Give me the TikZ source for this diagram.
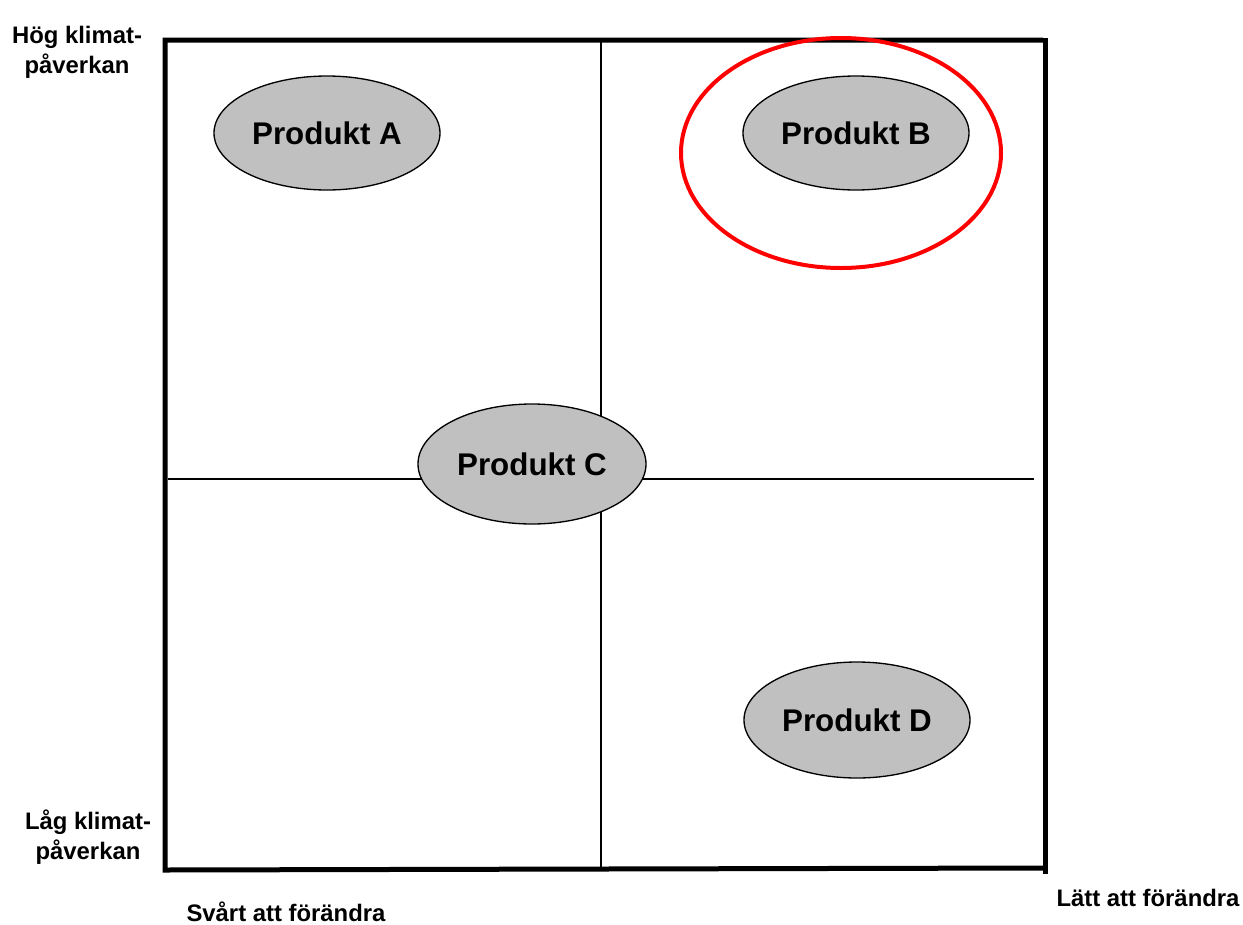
\documentclass[tikz,border=0pt]{standalone}
\usepackage{fontspec}
\setmainfont{Liberation Sans}
\usetikzlibrary{shapes.geometric}
\definecolor{prodgray}{RGB}{192,192,192}

\begin{document}
\begin{tikzpicture}[
                      x = 0.75pt,
                      y = -0.75pt,
         produkt/.style = {ellipse, draw, fill=prodgray, line width=1pt,
                           inner sep=0pt, minimum width=169.5pt, minimum height=85.5pt,
                           font=\fontsize{23.5}{28}\selectfont\bfseries},
            axel/.style = {align=center, inner sep=0pt,
                           font=\fontsize{17.9}{22.5}\selectfont\bfseries},
           ram/.style   = {line width=3.75pt},
        delning/.style  = {line width=1.5pt},
                     ]
\useasboundingbox (0,0) rectangle (1243,925);
% ram och kvadranter
\coordinate (nv) at (165,870);
\coordinate (ov) at (165,40);
\coordinate (oh) at (1043,40);
\coordinate (nh) at (1043,868);
\draw[ram] (oh) -- (ov) -- (nv) -- (nh);
\draw[ram] (1045,38) -- (1045,874);
\draw[delning] (601,40) -- (601,868);
\draw[delning] (168,479) -- (1034,479);
% produkter
\node[produkt] (prodA) at (327,133) {Produkt A};
\node[produkt] (prodB) at (856,133) {Produkt B};
\node[produkt, minimum width=171pt, minimum height=90pt] (prodC) at (532,464) {Produkt C};
\node[produkt, minimum height=87pt] (prodD) at (857,720) {Produkt D};
\node[ellipse, draw=red, line width=3pt, minimum width=240pt, minimum height=172.5pt]
    (ring) at (841,153) {};
% axeltexter
\node[axel] (hog) at (77,52) {Hög klimat-\\påverkan};
\node[axel] (lag) at (88,837) {Låg klimat-\\påverkan};
\node[axel] (svart) at (286,912) {Svårt att förändra};
\node[axel] (latt) at (1148,898) {Lätt att förändra};
\end{tikzpicture}
\end{document}
